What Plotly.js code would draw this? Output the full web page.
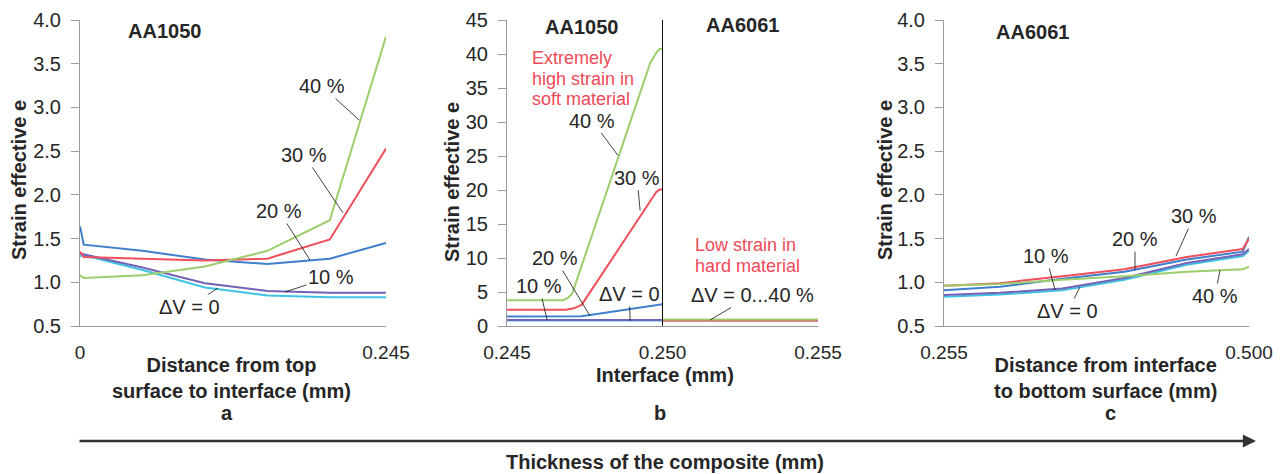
<!DOCTYPE html>
<html>
<head>
<meta charset="utf-8">
<script src="https://cdn.plot.ly/plotly-3.0.1.min.js"></script>
<style>html,body{margin:0;padding:0;background:#fff;}#chart{width:1287px;height:474px;}</style>
</head>
<body>
<div id="chart"></div>
<script>
// ---------- DATA ----------
// Panel a: AA1050, distance from top surface to interface (mm)
const aX      = [0, 0.003, 0.05, 0.1, 0.15, 0.2, 0.245];
const aDV0    = [1.30, 1.31, 1.14, 0.94, 0.85, 0.83, 0.83];
const aDV10   = [1.33, 1.32, 1.17, 0.99, 0.90, 0.88, 0.88];
const aDV20   = [1.64, 1.43, 1.36, 1.26, 1.21, 1.27, 1.45];
const aDV30   = [1.35, 1.29, 1.27, 1.25, 1.27, 1.49, 2.53];
const aDV40   = [1.08, 1.05, 1.08, 1.18, 1.36, 1.71, 3.81];

// Panel b: interface region (mm), AA1050 side
const bX0   = [0.245, 0.250];            const bDV0  = [0.80, 0.80];
const bX10  = [0.245, 0.250];            const bDV10 = [0.90, 0.90];
const bX20  = [0.245, 0.2474, 0.250];    const bDV20 = [1.40, 1.45, 3.20];
const bX30  = [0.245, 0.2469, 0.24715, 0.2474, 0.2497, 0.2498, 0.2499, 0.250];
const bDV30 = [2.4, 2.4, 2.6, 3.1, 19.0, 19.7, 20.05, 20.1];
const bX40  = [0.245, 0.2468, 0.24695, 0.2471, 0.2496, 0.2498, 0.2499, 0.250];
const bDV40 = [3.8, 3.8, 4.1, 4.8, 38.6, 40.2, 40.7, 40.8];
// Panel b: AA6061 side (all ΔV = 0...40 %)
const bXHard    = [0.250, 0.255];
const bHardDV0  = [0.85, 0.85];
const bHardDV10 = [0.85, 0.85];
const bHardDV20 = [0.90, 0.90];
const bHardDV30 = [0.80, 0.80];
const bHardDV40 = [0.95, 0.95];

// Panel c: AA6061, distance from interface to bottom surface (mm)
const cX    = [0.255, 0.3, 0.35, 0.4, 0.45, 0.495, 0.5];
const cDV0  = [0.835, 0.86, 0.91, 1.03, 1.20, 1.30, 1.36];
const cDV10 = [0.855, 0.88, 0.93, 1.05, 1.22, 1.32, 1.38];
const cDV20 = [0.91, 0.95, 1.04, 1.12, 1.26, 1.35, 1.52];
const cDV30 = [0.96, 0.99, 1.07, 1.15, 1.29, 1.38, 1.50];
const cDV40 = [0.96, 0.98, 1.03, 1.07, 1.12, 1.15, 1.18];

// Tick labels
const aTickVals = [0, 0.245];             const aTickText = ['0', '0.245'];
const bTickVals = [0.245, 0.250, 0.255];  const bTickText = ['0.245', '0.250', '0.255'];
const cTickVals = [0.255, 0.500];         const cTickText = ['0.255', '0.500'];

// ---------- STYLE ----------
const W = 1287, H = 474;
const FONT = 'Arial, "Liberation Sans", sans-serif';
const COL = {dv0:'#3cc3e4', dv10:'#7462b6', dv20:'#3f7fcb', dv30:'#ef4f5a', dv40:'#9dcd6c'};
const TXT = '#262626', RED = '#ee4a57', AXC = '#9a9a9a';
const LW = 2;

function line(x, y, color, xa, ya) {
  return {x: x, y: y, type: 'scatter', mode: 'lines', xaxis: xa, yaxis: ya,
          line: {color: color, width: LW}, hoverinfo: 'skip', showlegend: false};
}

const traces = [
  line(aX, aDV0, COL.dv0, 'x', 'y'),
  line(aX, aDV10, COL.dv10, 'x', 'y'),
  line(aX, aDV20, COL.dv20, 'x', 'y'),
  line(aX, aDV30, COL.dv30, 'x', 'y'),
  line(aX, aDV40, COL.dv40, 'x', 'y'),

  line(bX0, bDV0, COL.dv0, 'x2', 'y2'),
  line(bX10, bDV10, COL.dv10, 'x2', 'y2'),
  line(bX20, bDV20, COL.dv20, 'x2', 'y2'),
  line(bX30, bDV30, COL.dv30, 'x2', 'y2'),
  line(bX40, bDV40, COL.dv40, 'x2', 'y2'),
  line(bXHard, bHardDV0, COL.dv0, 'x2', 'y2'),
  line(bXHard, bHardDV10, COL.dv10, 'x2', 'y2'),
  line(bXHard, bHardDV20, COL.dv20, 'x2', 'y2'),
  line(bXHard, bHardDV30, COL.dv30, 'x2', 'y2'),
  line(bXHard, bHardDV40, COL.dv40, 'x2', 'y2'),

  line(cX, cDV0, COL.dv0, 'x3', 'y3'),
  line(cX, cDV10, COL.dv10, 'x3', 'y3'),
  line(cX, cDV20, COL.dv20, 'x3', 'y3'),
  line(cX, cDV30, COL.dv30, 'x3', 'y3'),
  line(cX, cDV40, COL.dv40, 'x3', 'y3')
];

// layout helpers (pixel -> paper)
const px = v => v / W;
const py = v => 1 - v / H;
const TOP = 20, BOT = 326;
const yDom = [py(BOT), py(TOP)];

function xax(domain, range, vals, text) {
  return {domain: domain, range: range, showline: true, linecolor: AXC, linewidth: 1,
          ticks: 'inside', ticklen: 5, tickcolor: AXC, tickvals: vals, ticktext: text,
          tickfont: {family: FONT, size: 19, color: TXT}, ticklabelstandoff: 9,
          showgrid: false, zeroline: false, fixedrange: true};
}
function yax(anchor, range, dtick, fmt) {
  return {domain: yDom, anchor: anchor, range: range, dtick: dtick, tick0: 0, tickformat: fmt,
          showline: true, linecolor: AXC, linewidth: 1, ticks: 'outside', ticklen: 8, tickcolor: AXC,
          tickfont: {family: FONT, size: 20, color: TXT}, ticklabelstandoff: 6,
          showgrid: false, zeroline: false, fixedrange: true};
}

function txt(x, y, text, opts) {
  return Object.assign({x: px(x), y: py(y), xref: 'paper', yref: 'paper', text: text,
    showarrow: false, xanchor: 'center', yanchor: 'middle',
    font: {family: FONT, size: 20, color: TXT}}, opts || {});
}
function lab(xref, yref, x, y, ax, ay, text) {
  return {xref: xref, yref: yref, x: x, y: y, ax: ax, ay: ay, text: text,
    showarrow: true, arrowhead: 0, arrowwidth: 0.8, arrowcolor: '#111', standoff: 0,
    font: {family: FONT, size: 20, color: TXT}};
}
const bold = (s) => '<b>' + s + '</b>';

const annotations = [
  // sub-panel headings
  txt(165, 31, bold('AA1050')),
  txt(581, 27, bold('AA1050')),
  txt(742, 25, bold('AA6061')),
  txt(1032, 32, bold('AA6061')),
  // y axis titles
  txt(19, 180, bold('Strain effective e'), {textangle: -90}),
  txt(452, 182, bold('Strain effective e'), {textangle: -90}),
  txt(885, 180, bold('Strain effective e'), {textangle: -90}),
  // x axis titles
  txt(231, 378, bold('Distance from top<br>surface to interface (mm)')),
  txt(665, 375, bold('Interface (mm)')),
  txt(1105, 378, bold('Distance from interface<br>to bottom surface (mm)')),
  txt(227, 413, bold('a')),
  txt(660, 413, bold('b')),
  txt(1110, 413, bold('c')),
  txt(665, 462, bold('Thickness of the composite (mm)')),
  // red notes
  txt(530, 58, 'Extremely', {xanchor: 'left', font: {family: FONT, size: 18, color: RED}}),
  txt(530, 79, 'high strain in', {xanchor: 'left', font: {family: FONT, size: 18, color: RED}}),
  txt(530, 99, 'soft material', {xanchor: 'left', font: {family: FONT, size: 18, color: RED}}),
  txt(693, 245, 'Low strain in', {xanchor: 'left', font: {family: FONT, size: 18, color: RED}}),
  txt(693, 266, 'hard material', {xanchor: 'left', font: {family: FONT, size: 18, color: RED}}),
  // curve labels panel a
  lab('x', 'y', 0.2234, 2.856, -37, -34, '40 %'),
  lab('x', 'y', 0.2106, 1.793, -39, -58, '30 %'),
  lab('x', 'y', 0.1841, 1.255, -31, -49, '20 %'),
  lab('x', 'y', 0.1641, 0.889, 46, -15, '10 %'),
  lab('x', 'y', 0.1105, 0.935, -29, 19, '\u0394V = 0'),
  // panel b
  lab('x2', 'y2', 0.24857, 25.07, -26, -35, '40 %'),
  lab('x2', 'y2', 0.24928, 16.96, -3, -33, '30 %'),
  lab('x2', 'y2', 0.24767, 1.47, -35, -58, '20 %'),
  lab('x2', 'y2', 0.24629, 0.88, -8, -34, '10 %'),
  lab('x2', 'y2', 0.24896, 0.74, -1, -27, '\u0394V = 0'),
  lab('x2', 'y2', 0.25153, 0.88, 42, -25, '\u0394V = 0...40 %'),
  // panel c
  lab('x3', 'y3', 0.4414, 1.30, 18, -40, '30 %'),
  lab('x3', 'y3', 0.4084, 1.14, 0, -31, '20 %'),
  lab('x3', 'y3', 0.3442, 0.912, -9, -34, '10 %'),
  lab('x3', 'y3', 0.3642, 0.946, -12, 24, '\u0394V = 0'),
  lab('x3', 'y3', 0.4767, 1.14, -5, 26, '40 %'),
  // bottom arrow
  {xref: 'paper', yref: 'paper', x: px(1256), y: py(441), ax: -1178, ay: 0, axref: 'pixel', ayref: 'pixel',
   text: '', showarrow: true, arrowhead: 2, arrowsize: 1.1, arrowwidth: 2.4, arrowcolor: '#333', standoff: 0}
];

const layout = {
  width: W, height: H, margin: {l: 0, r: 0, t: 0, b: 0},
  paper_bgcolor: '#fff', plot_bgcolor: 'rgba(0,0,0,0)', showlegend: false,
  font: {family: FONT, color: TXT},
  xaxis: Object.assign(xax([px(80), px(386)], [0, 0.245], aTickVals, aTickText), {anchor: 'y'}),
  yaxis: yax('x', [0.5, 4.0], 0.5, '.1f'),
  xaxis2: Object.assign(xax([px(507), px(818)], [0.245, 0.255], bTickVals, bTickText), {anchor: 'y2'}),
  yaxis2: yax('x2', [0, 45], 5, 'd'),
  xaxis3: Object.assign(xax([px(944), px(1249)], [0.255, 0.5], cTickVals, cTickText), {anchor: 'y3'}),
  yaxis3: yax('x3', [0.5, 4.0], 0.5, '.1f'),
  shapes: [
    {type: 'line', xref: 'x2', yref: 'paper', x0: 0.250, x1: 0.250, y0: py(BOT), y1: py(TOP),
     line: {color: '#111', width: 1}}
  ],
  annotations: annotations
};

Plotly.newPlot('chart', traces, layout, {staticPlot: true, displayModeBar: false});
</script>
</body>
</html>
